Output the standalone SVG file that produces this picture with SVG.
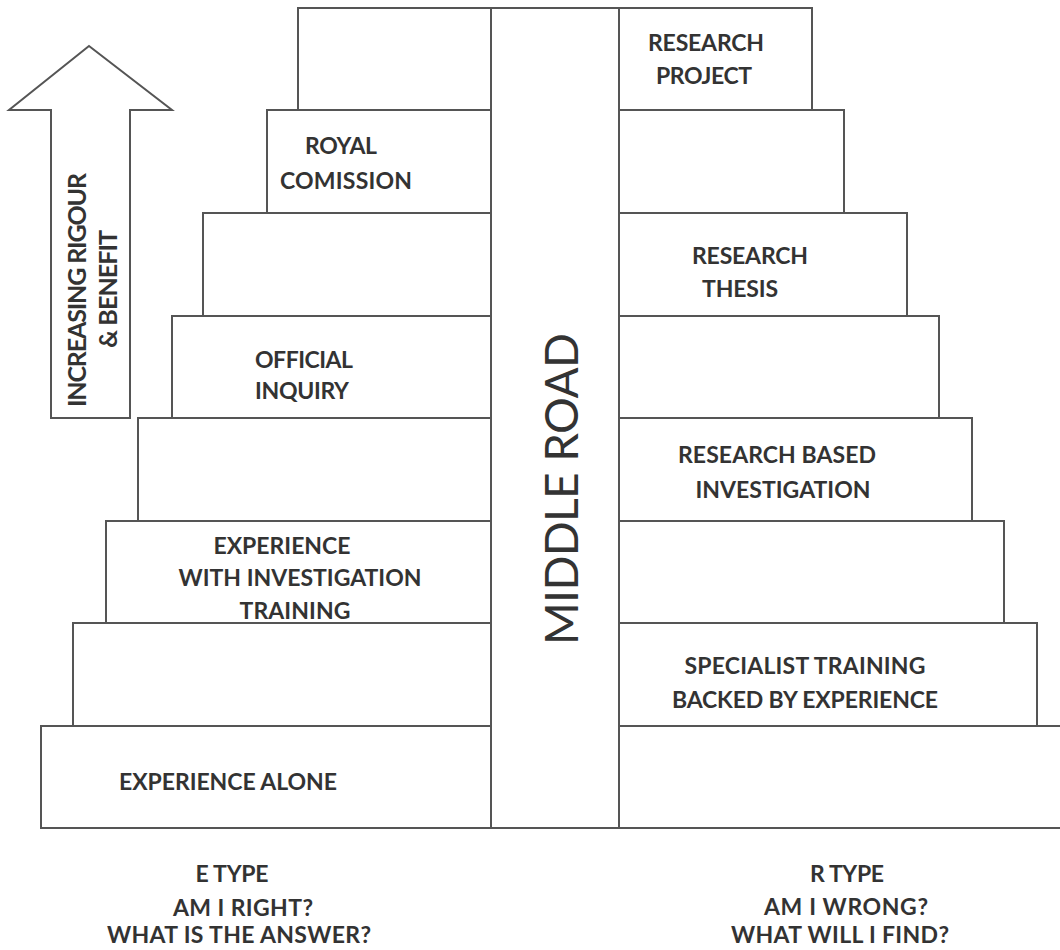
<svg xmlns="http://www.w3.org/2000/svg" width="1060" height="950" viewBox="0 0 1060 950">
<style>
.box{fill:#fff;stroke:#555;stroke-width:2}
.t{font-family:Lato,"Open Sans","Liberation Sans",sans-serif;font-weight:bold;font-size:23px;fill:#333;text-anchor:middle}
.mr{font-family:Lato,"Open Sans","Liberation Sans",sans-serif;font-weight:normal;font-size:46px;fill:#333;text-anchor:middle}
</style>
<rect width="1060" height="950" fill="#fff"/>
<g id="arrow">
<polygon class="box" points="89,46 172,110 130,110 130,418 51,418 51,110 9,110"/>
<text class="t" style="font-size:25px" transform="translate(86,290) rotate(-90)" textLength="234">INCREASING RIGOUR</text>
<text class="t" style="font-size:25px" transform="translate(117,289) rotate(-90)" textLength="118">&amp; BENEFIT</text>
</g>
<g id="left-steps">
<g id="L1"><rect class="box" x="298" y="8" width="193" height="102"/></g>
<g id="L2"><rect class="box" x="267" y="110" width="224" height="103"/>
<text class="t" x="341" y="154" textLength="72">ROYAL</text>
<text class="t" x="346" y="189" textLength="132">COMISSION</text></g>
<g id="L3"><rect class="box" x="203" y="213" width="288" height="103"/></g>
<g id="L4"><rect class="box" x="172" y="316" width="319" height="102"/>
<text class="t" x="304" y="368" textLength="98">OFFICIAL</text>
<text class="t" x="302" y="399" textLength="94">INQUIRY</text></g>
<g id="L5"><rect class="box" x="138" y="418" width="353" height="103"/></g>
<g id="L6"><rect class="box" x="106" y="521" width="385" height="102"/>
<text class="t" x="282" y="554" textLength="137">EXPERIENCE</text>
<text class="t" x="300" y="586" textLength="243">WITH INVESTIGATION</text>
<text class="t" x="295" y="619" textLength="111">TRAINING</text></g>
<g id="L7"><rect class="box" x="73" y="623" width="418" height="103"/></g>
<g id="L8"><rect class="box" x="41" y="726" width="450" height="102"/>
<text class="t" x="228" y="790" textLength="218">EXPERIENCE ALONE</text></g>
</g>
<g id="middle-road">
<rect class="box" x="491" y="8" width="128" height="820"/>
<text class="mr" transform="translate(578,489) rotate(-90)" textLength="312">MIDDLE ROAD</text>
</g>
<g id="right-steps">
<g id="R1"><rect class="box" x="619" y="8" width="193" height="102"/>
<text class="t" x="706" y="51" textLength="116">RESEARCH</text>
<text class="t" x="704" y="84" textLength="96">PROJECT</text></g>
<g id="R2"><rect class="box" x="619" y="110" width="225" height="103"/></g>
<g id="R3"><rect class="box" x="619" y="213" width="288" height="103"/>
<text class="t" x="750" y="264" textLength="116">RESEARCH</text>
<text class="t" x="740" y="297" textLength="76">THESIS</text></g>
<g id="R4"><rect class="box" x="619" y="316" width="320" height="102"/></g>
<g id="R5"><rect class="box" x="619" y="418" width="353" height="103"/>
<text class="t" x="777" y="463" textLength="198">RESEARCH BASED</text>
<text class="t" x="783" y="498" textLength="175">INVESTIGATION</text></g>
<g id="R6"><rect class="box" x="619" y="521" width="385" height="102"/></g>
<g id="R7"><rect class="box" x="619" y="623" width="418" height="103"/>
<text class="t" x="805" y="674" textLength="241">SPECIALIST TRAINING</text>
<text class="t" x="805" y="708" textLength="266">BACKED BY EXPERIENCE</text></g>
<g id="R8"><rect class="box" x="619" y="726" width="460" height="102"/></g>
</g>
<g id="labels">
<text class="t" x="232" y="882" textLength="73">E TYPE</text>
<text class="t" x="243" y="916" textLength="140">AM I RIGHT?</text>
<text class="t" x="239" y="943" textLength="264">WHAT IS THE ANSWER?</text>
<text class="t" x="847" y="882" textLength="74">R TYPE</text>
<text class="t" x="846" y="915" textLength="164">AM I WRONG?</text>
<text class="t" x="840" y="943" textLength="218">WHAT WILL I FIND?</text>
</g>
<g id="connectors"></g>
</svg>
